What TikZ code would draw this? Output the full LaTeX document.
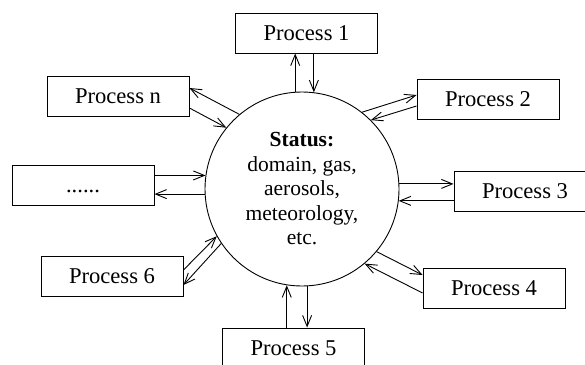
\documentclass[tikz,border=0pt]{standalone}
\usepackage{fontspec}
\setmainfont{Liberation Serif}
\usetikzlibrary{arrows.meta,calc}
\begin{document}
\begin{tikzpicture}[x=1pt,y=-1pt,
  txt/.style={font=\fontsize{21.5}{24.5}\selectfont},
  box/.style={draw,line width=0.9pt,minimum width=142pt,minimum height=40pt,inner sep=0pt,font=\fontsize{22.6}{26}\selectfont,text height=15.5pt,text depth=0pt},
  conn/.style={line width=0.9pt,-{Straight Barb[length=11pt,width=9pt,line width=0.9pt]}}]
\useasboundingbox (0,0) rectangle (585,364);
\clip (0,0) rectangle (585,364);
\node[box] (p1) at (306.5,33) {Process 1};
\node[box] (pn) at (118,96) {Process n};
\node[box] (p2) at (488,99) {Process 2};
\node[box] (p3) at (525,191) {Process 3};
\node[box] (pd) at (83,185) {......};
\node[box] (p6) at (112,276) {Process 6};
\node[box] (p5) at (293.5,348) {Process 5};
\node[box] (p4) at (494,288) {Process 4};
\node[circle,draw,line width=0.9pt,minimum size=194pt,inner sep=0pt,align=center,txt] (st) at (302,189)
  {\textbf{Status:}\\domain, gas,\\aerosols,\\meteorology,\\etc.};
% Process 1
\draw[conn] (st.94.7) -- (st.94.7 |- p1.south);
\draw[conn] (st.83.5 |- p1.south) -- (st.83.5);
% Process n
\draw[conn] (st.130.3) -- ($(pn.east)+(0pt,8pt)$);
\draw[conn] ($(pn.east)+(0pt,-12pt)$) -- (st.141.3);
% Process 2
\draw[conn] (st.52.4) -- ($(p2.west)+(0pt,4pt)$);
\draw[conn] ($(p2.west)+(0pt,-7pt)$) -- (st.45.4);
% Process 3
\draw[conn] (st.3) -- (st.3 -| p3.west);
\draw[conn] (st.-7.7 -| p3.west) -- (st.-7.7);
% dots
\draw[conn] (st.172.9 -| pd.east) -- (st.172.9);
\draw[conn] (st.183.5) -- (st.183.5 -| pd.east);
% Process 6
\draw[conn] ($(p6.east)+(0pt,6pt)$) -- (st.209.4);
\draw[conn] (st.214.8) -- ($(p6.east)+(0pt,-9pt)$);
% Process 5
\draw[conn] (st.261.7 |- p5.north) -- (st.261.7);
\draw[conn] (st.273) -- (st.273 |- p5.north);
% Process 4
\draw[conn] (st.-40.3) -- ($(p4.west)+(0pt,13pt)$);
\draw[conn] ($(p4.west)+(0pt,-5pt)$) -- (st.-50.5);
\end{tikzpicture}
\end{document}
